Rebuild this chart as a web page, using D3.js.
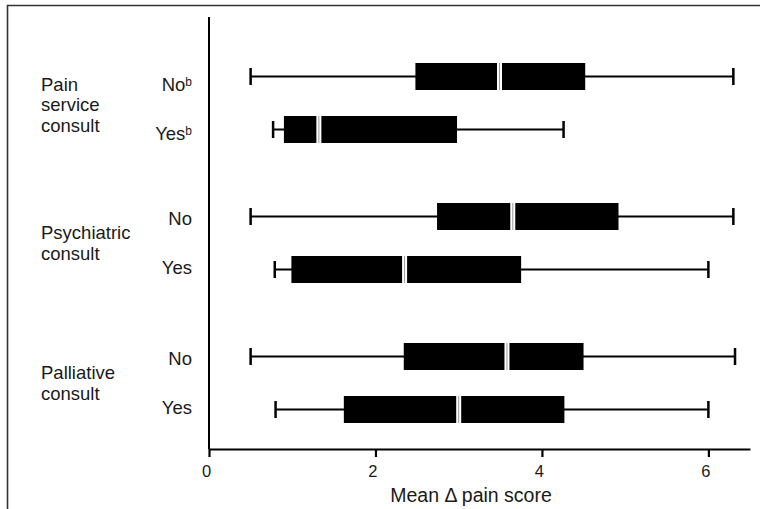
<!DOCTYPE html>
<html>
<head>
<meta charset="utf-8">
<script src="https://cdn.jsdelivr.net/npm/d3@7"></script>
<style>
  html, body { margin: 0; padding: 0; background: #fff; }
  svg { display: block; }
  text { font-family: "Liberation Sans", Arial, Helvetica, sans-serif; fill: #1a1a1a; }
</style>
</head>
<body>
<svg id="chart" width="760" height="509"></svg>
<script>
// ---- data ----
const groupLines = [["Pain", "service", "consult"], ["Psychiatric", "consult"], ["Palliative", "consult"]];
const subLabels = ["No", "Yes"];
const groupFootnote = ["b", "", ""];
const whiskerLow  = [0.50, 0.77, 0.50, 0.79, 0.50, 0.80];
const q1          = [2.48, 0.90, 2.74, 0.99, 2.34, 1.62];
const median      = [3.49, 1.32, 3.65, 2.35, 3.58, 3.00];
const q3          = [4.52, 2.98, 4.92, 3.75, 4.50, 4.27];
const whiskerHigh = [6.30, 4.26, 6.30, 6.00, 6.32, 6.00];
const xTicks = [0, 2, 4, 6];
const xDomain = [0, 6.5];
const xTitle = "Mean \u0394 pain score";

const rows = [];
groupLines.forEach((g, gi) => {
  subLabels.forEach((s, si) => {
    const i = gi * subLabels.length + si;
    rows.push({ group: gi, sub: s, foot: groupFootnote[gi],
      lo: whiskerLow[i], q1: q1[i], med: median[i], q3: q3[i], hi: whiskerHigh[i] });
  });
});

// ---- layout ----
const svg = d3.select("#chart");
const x = d3.scaleLinear().domain(xDomain).range([209, 750]);
const yGroup = d3.scaleBand().domain(d3.range(groupLines.length)).range([33, 453]).padding(0);
const ySub = d3.scalePoint().domain(subLabels).range([-26.5, 26.5]);
const yLab = d3.scalePoint().domain(subLabels).range([-24, 25]);
const labelShift = [6, 0, 0];
const gc = gi => yGroup(gi) + yGroup.bandwidth() / 2;
const yRow = r => gc(r.group) + ySub(r.sub);
const boxH = 27;

// frame
svg.append("path")
  .attr("d", "M7.5,509 L7.5,5.5 L760,5.5")
  .attr("fill", "none").attr("stroke", "#333").attr("stroke-width", 1.6);

// vertical axis line
svg.append("line")
  .attr("x1", x(0)).attr("x2", x(0)).attr("y1", 17).attr("y2", 449)
  .attr("stroke", "#000").attr("stroke-width", 2);

// x axis
const xAxis = d3.axisBottom(x).tickValues(xTicks).tickFormat(d3.format("d"))
  .tickSizeInner(8).tickSizeOuter(0).tickPadding(8);
const gx = svg.append("g").attr("transform", "translate(0,449)").call(xAxis);
gx.select(".domain").attr("stroke", "#000").attr("stroke-width", 2.2);
gx.selectAll(".tick line").attr("stroke", "#000").attr("stroke-width", 2.2);
gx.selectAll(".tick text").attr("font-size", 16.5).attr("dx", -3)
  .attr("font-family", "'Liberation Sans', Arial, sans-serif").attr("fill", "#1a1a1a");

svg.append("text")
  .attr("x", 471).attr("y", 502)
  .attr("text-anchor", "middle").attr("font-size", 19.5)
  .text(xTitle);

// boxes
const rg = svg.append("g").selectAll("g").data(rows).join("g");
rg.append("line")
  .attr("x1", d => x(d.lo)).attr("x2", d => x(d.hi))
  .attr("y1", d => yRow(d)).attr("y2", d => yRow(d))
  .attr("stroke", "#000").attr("stroke-width", 2);
rg.selectAll("line.cap").data(d => [d.lo, d.hi].map(v => ({ v, y: yRow(d) }))).join("line")
  .attr("class", "cap")
  .attr("x1", c => x(c.v)).attr("x2", c => x(c.v))
  .attr("y1", c => c.y - 8.5).attr("y2", c => c.y + 8.5)
  .attr("stroke", "#000").attr("stroke-width", 2.5);
rg.append("rect")
  .attr("x", d => x(d.q1)).attr("width", d => x(d.q3) - x(d.q1))
  .attr("y", d => yRow(d) - boxH / 2).attr("height", boxH)
  .attr("fill", "#000");
rg.append("line")
  .attr("x1", d => x(d.med)).attr("x2", d => x(d.med))
  .attr("y1", d => yRow(d) - boxH / 2).attr("y2", d => yRow(d) + boxH / 2)
  .attr("stroke", "#fff").attr("stroke-width", 5);
rg.append("line")
  .attr("x1", d => x(d.med)).attr("x2", d => x(d.med))
  .attr("y1", d => yRow(d) - boxH / 2).attr("y2", d => yRow(d) + boxH / 2)
  .attr("stroke", "#999").attr("stroke-width", 1);

// sub labels
const sl = svg.append("g").selectAll("text").data(rows).join("text")
  .attr("x", 192).attr("y", d => gc(d.group) + yLab(d.sub) + labelShift[d.group])
  .attr("dy", "0.35em").attr("text-anchor", "end").attr("font-size", 18.5);
sl.append("tspan").text(d => d.sub);
sl.filter(d => d.foot).append("tspan")
  .attr("font-size", 12).attr("dy", "-0.45em").text(d => d.foot);

// group labels
const lh = 20.5;
svg.append("g").selectAll("text").data(groupLines).join("text")
  .attr("x", 41)
  .attr("y", (d, i) => gc(i) + labelShift[i] / 3 - (d.length - 1) * lh / 2)
  .attr("font-size", 18.5)
  .each(function (lines) {
    d3.select(this).selectAll("tspan").data(lines).join("tspan")
      .attr("x", 41).attr("dy", (l, j) => j === 0 ? "0.35em" : lh).text(l => l);
  });
</script>
</body>
</html>
